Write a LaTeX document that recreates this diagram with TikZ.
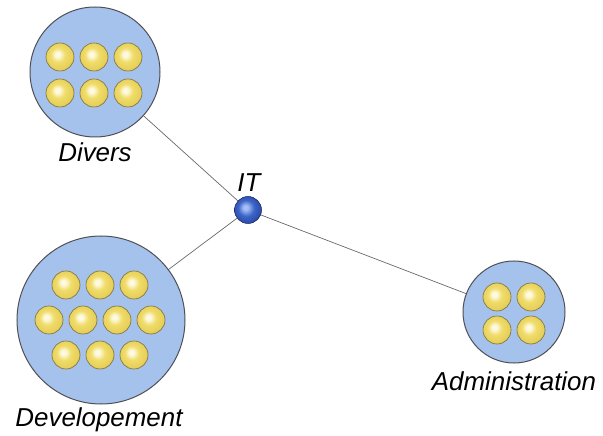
\documentclass[tikz,border=0pt]{standalone}
\usepackage{fontspec}
\setmainfont{Liberation Sans}

% group discs, member spheres and the hub sphere
\definecolor{grpfill}{RGB}{164,194,236}
\definecolor{grpline}{RGB}{80,80,85}
\definecolor{linkgray}{RGB}{105,105,105}
\definecolor{ylwhi}{RGB}{253,250,225}
\definecolor{ylwmid}{RGB}{240,220,105}
\definecolor{ylwdk}{RGB}{200,168,45}
\definecolor{ballrim}{RGB}{125,112,60}
\definecolor{bluehi}{RGB}{165,190,245}
\definecolor{bluemid}{RGB}{60,100,200}
\definecolor{bluedk}{RGB}{22,40,120}

\pgfdeclareradialshading{memberball}{\pgfpoint{-5bp}{5bp}}{%
  color(0bp)=(ylwhi); color(4bp)=(ylwhi); color(13bp)=(ylwmid);
  color(25bp)=(ylwmid!75!ylwdk); color(31bp)=(ylwdk); color(50bp)=(ylwdk)}
\pgfdeclareradialshading{hubball}{\pgfpoint{-5bp}{5bp}}{%
  color(0bp)=(bluehi); color(4bp)=(bluehi); color(15bp)=(bluemid);
  color(26bp)=(bluemid!60!bluedk); color(31bp)=(bluedk); color(50bp)=(bluedk)}

\begin{document}
\begin{tikzpicture}[x=1bp,y=-1bp,
  group/.style={circle, draw=grpline, fill=grpfill, line width=1bp, inner sep=0pt},
  member/.style={circle, minimum size=28bp, inner sep=0pt, draw=ballrim,
    line width=0.6bp, shading=memberball},
  hub/.style={circle, minimum size=27bp, inner sep=0pt, draw=bluedk!80!black,
    line width=0.5bp, shading=hubball},
  link/.style={draw=linkgray, line width=0.7bp},
  lbl/.style={font=\fontsize{26}{31}\selectfont\itshape, inner sep=0pt, anchor=base}]

\path[use as bounding box] (0,0) rectangle (603,436);

% groups
\node[group, minimum size=130bp] (divers) at (95,72) {};
\node[group, minimum size=168bp] (dev) at (101,320) {};
\node[group, minimum size=102bp] (admin) at (514,312) {};

% hub
\node[hub] (it) at (248,210) {};

% links from the hub to each group
\draw[link] (it) -- (divers);
\draw[link] (it) -- (dev);
\draw[link] (it) -- (admin);

% members of Divers
\foreach \x/\y [count=\i] in {60/57, 94/57, 128/57, 60/93, 94/93, 128/93}
  \node[member] (dv\i) at (\x,\y) {};

% members of Developement
\foreach \x/\y [count=\i] in {66/285, 100/285, 134/285,
    49/320, 83/320, 117/320, 151/320,
    66/355, 100/355, 134/355}
  \node[member] (de\i) at (\x,\y) {};

% members of Administration
\foreach \x/\y [count=\i] in {497/297, 531/297, 497/330, 531/330}
  \node[member] (ad\i) at (\x,\y) {};

% labels
\node[lbl] (itlbl) at (249,192) {IT};
\node[lbl] (diverslbl) at (95,162) {Divers};
\node[lbl] (devlbl) at (99,426) {Developement};
\node[lbl] (adminlbl) at (514,390) {Administration};
\end{tikzpicture}
\end{document}
